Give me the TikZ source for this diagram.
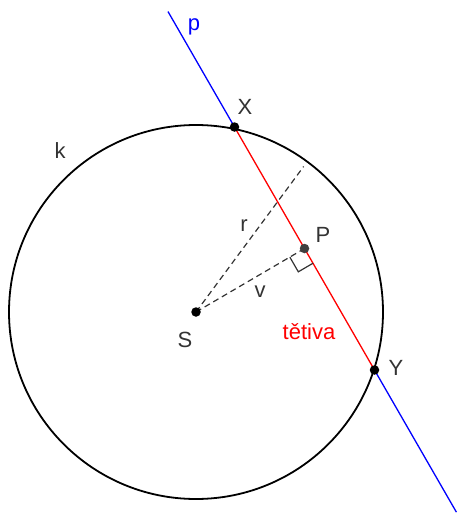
\documentclass[tikz,border=0pt]{standalone}
\usepackage{fontspec}
\setmainfont{Liberation Sans}
\usetikzlibrary{calc}
\definecolor{pblue}{RGB}{0,0,255}
\definecolor{chred}{RGB}{255,0,0}
\tikzset{
  lbl/.style={font=\fontsize{22}{25}\selectfont, text=black!80, inner sep=0pt},
  pt/.style={circle, fill=black, inner sep=0pt, minimum size=9.5pt},
  dsh/.style={dash pattern=on 6pt off 4pt, line width=1.2pt, black!80},
}
\begin{document}
\begin{tikzpicture}[x=1pt,y=-1pt]
\useasboundingbox (0,0) rectangle (459,514);
\coordinate (S) at (196,312);
\coordinate (X) at (234.5,127);
\coordinate (Y) at (374.5,370);
\coordinate (P) at ($(X)!0.5!(Y)$);
\coordinate (pa) at ($(X)!-0.475!(Y)$);
\coordinate (pb) at ($(Y)!-0.585!(X)$);
\coordinate (R) at ($(S)+(-53.5:181)$);
% line p
\draw[pblue, line width=1.3pt] (pa) -- (X);
\draw[pblue, line width=1.3pt] (Y) -- (pb);
\draw[chred, line width=1.3pt] (X) -- (Y);
% circle k
\draw[black, line width=1.8pt] (S) circle[radius=187];
% dashed
\draw[dsh] (S) -- (R);
\draw[dsh] (S) -- (P);
% right angle
\coordinate (ra) at ($(P)!17pt!(S)$);
\coordinate (rb) at ($(P)!17pt!(Y)$);
\draw[black!80, line width=1.2pt] (ra) -- ($(ra)+(rb)-(P)$) -- (rb);
% points
\node[pt] (nS) at (S) {};
\node[pt] (nX) at (X) {};
\node[pt] (nY) at (Y) {};
\node[pt, fill=black!75] (nP) at (P) {};
% labels
\node[lbl, text=pblue] at (194,27) {p};
\node[lbl] at (245,107) {X};
\node[lbl] at (60,151) {k};
\node[lbl] at (244,226) {r};
\node[lbl] at (323,235) {P};
\node[lbl] at (260,292) {v};
\node[lbl] at (185,340) {S};
\node[lbl, text=chred] at (309,332) {tětiva};
\node[lbl] at (396,368) {Y};
\end{tikzpicture}
\end{document}
